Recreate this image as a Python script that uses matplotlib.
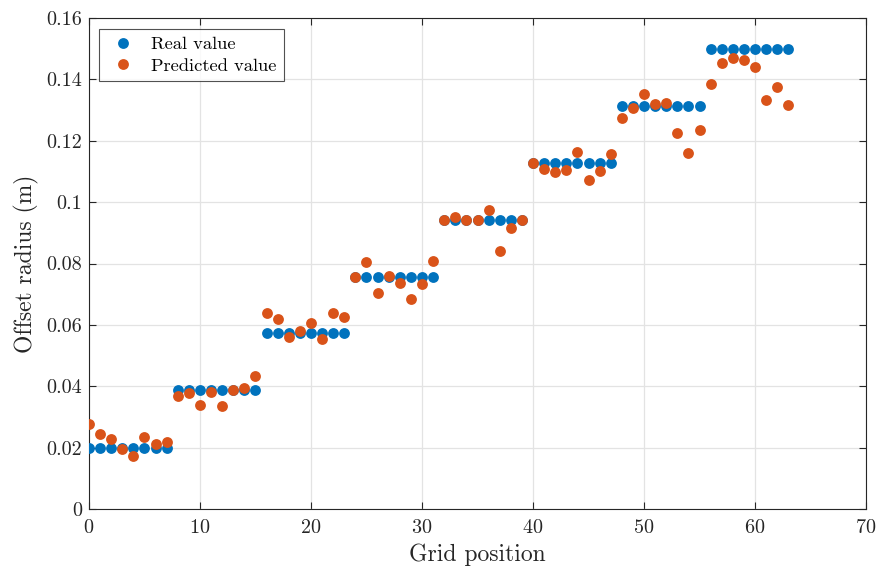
import matplotlib
matplotlib.use("Agg")
import matplotlib.pyplot as plt
from matplotlib.ticker import FuncFormatter
import numpy as np

# Grid positions and offset radii (m)
grid_position = list(range(64))
level_values = [0.0200, 0.0387, 0.0572, 0.0757, 0.0943, 0.1128, 0.1313, 0.1500]
real_value = [lv for lv in level_values for _ in range(8)]
predicted_value = [
    0.0277, 0.0244, 0.0228, 0.0196, 0.0172, 0.0234, 0.0212, 0.0218,
    0.0368, 0.0377, 0.0340, 0.0380, 0.0336, 0.0389, 0.0395, 0.0433,
    0.0638, 0.0619, 0.0560, 0.0580, 0.0605, 0.0554, 0.0638, 0.0627,
    0.0757, 0.0804, 0.0703, 0.0760, 0.0736, 0.0685, 0.0733, 0.0808,
    0.0943, 0.0953, 0.0943, 0.0943, 0.0976, 0.0841, 0.0917, 0.0943,
    0.1126, 0.1107, 0.1098, 0.1104, 0.1163, 0.1072, 0.1101, 0.1157,
    0.1273, 0.1306, 0.1351, 0.1320, 0.1322, 0.1226, 0.1161, 0.1235,
    0.1385, 0.1455, 0.1469, 0.1463, 0.1439, 0.1333, 0.1376, 0.1318,
]

x_ticks = [0, 10, 20, 30, 40, 50, 60, 70]
y_ticks = [0, 0.02, 0.04, 0.06, 0.08, 0.1, 0.12, 0.14, 0.16]

plt.rcParams["font.family"] = ["cmr10", "DejaVu Serif"]
plt.rcParams["mathtext.fontset"] = "cm"
plt.rcParams["axes.formatter.use_mathtext"] = True

fig = plt.figure(figsize=(8.81, 5.69), dpi=100)
ax = fig.add_axes([0.101, 0.1054, 0.882, 0.8629])

ax.plot(grid_position, real_value, "o", color="#0072BD", markersize=7.8,
        markeredgewidth=0, label="Real value", zorder=3)
ax.plot(grid_position, predicted_value, "o", color="#D95319", markersize=7.8,
        markeredgewidth=0, label="Predicted value", zorder=4)

ax.set_xlim(0, 70)
ax.set_ylim(0, 0.16)
ax.set_xticks(x_ticks)
ax.set_yticks(y_ticks)
ax.yaxis.set_major_formatter(FuncFormatter(lambda v, _: f"{v:g}"))
ax.tick_params(direction="in", top=True, right=True, length=5, width=0.8,
               labelsize=14.5, colors="#262626")
ax.tick_params(axis="x", pad=7)
ax.tick_params(axis="y", pad=5)
ax.grid(True, color="#e3e3e3", linewidth=0.9)
ax.set_axisbelow(True)
for spine in ax.spines.values():
    spine.set_color("#262626")
    spine.set_linewidth(0.8)

ax.set_xlabel("Grid position", fontsize=17, color="#262626", labelpad=5)
ax.set_ylabel("Offset radius (m)", fontsize=17, color="#262626", labelpad=5)

leg = ax.legend(loc="upper left", bbox_to_anchor=(0.013, 0.978), fontsize=13.3,
                frameon=True, fancybox=False, edgecolor="#262626",
                handletextpad=0.6, borderpad=0.4, labelspacing=0.3,
                handlelength=1.8, borderaxespad=0)
leg.get_frame().set_linewidth(0.8)

fig.savefig("out.png", dpi=100)
